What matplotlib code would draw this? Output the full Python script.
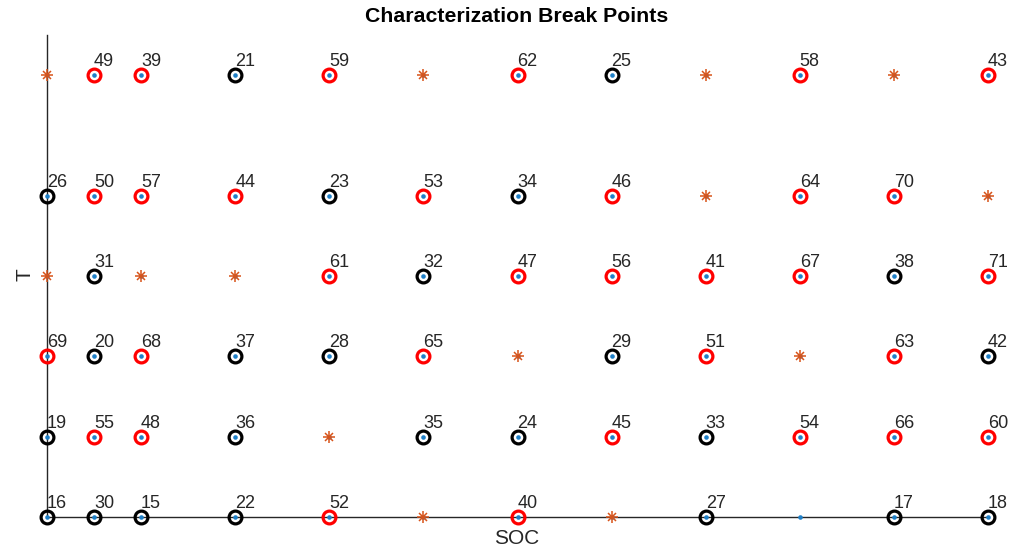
import numpy as np
import matplotlib
matplotlib.use("Agg")
import matplotlib.pyplot as plt

plt.rcParams['font.family'] = ['Liberation Sans', 'DejaVu Sans']

# Breakpoint grid
soc_levels = [0, 0.05, 0.1, 0.2, 0.3, 0.4, 0.5, 0.6, 0.7, 0.8, 0.9, 1.0]
temp_levels = [0, 10, 20, 30, 40, 55]

# Points measured in the first campaign (black rings)
black_ids = [16, 30, 15, 22, 27, 17, 18,
             19, 36, 35, 24, 33,
             20, 37, 28, 29, 42,
             31, 32, 38,
             26, 23, 34,
             21, 25]
black_soc = [0, 0.05, 0.1, 0.2, 0.7, 0.9, 1.0,
             0, 0.2, 0.4, 0.5, 0.7,
             0.05, 0.2, 0.3, 0.6, 1.0,
             0.05, 0.4, 0.9,
             0, 0.3, 0.5,
             0.2, 0.6]
black_temp = [0, 0, 0, 0, 0, 0, 0,
              10, 10, 10, 10, 10,
              20, 20, 20, 20, 20,
              30, 30, 30,
              40, 40, 40,
              55, 55]

# Points measured in the second campaign (red rings)
red_ids = [52, 40,
           55, 48, 45, 54, 66, 60,
           69, 68, 65, 51, 63,
           61, 47, 56, 41, 67, 71,
           50, 57, 44, 53, 46, 64, 70,
           49, 39, 59, 62, 58, 43]
red_soc = [0.3, 0.5,
           0.05, 0.1, 0.6, 0.8, 0.9, 1.0,
           0, 0.1, 0.4, 0.7, 0.9,
           0.3, 0.5, 0.6, 0.7, 0.8, 1.0,
           0.05, 0.1, 0.2, 0.4, 0.6, 0.8, 0.9,
           0.05, 0.1, 0.3, 0.5, 0.8, 1.0]
red_temp = [0, 0,
            10, 10, 10, 10, 10, 10,
            20, 20, 20, 20, 20,
            30, 30, 30, 30, 30, 30,
            40, 40, 40, 40, 40, 40, 40,
            55, 55, 55, 55, 55, 55]

# Skipped points (asterisks)
star_soc = [0.4, 0.6,
            0.3,
            0.5, 0.8,
            0, 0.1, 0.2,
            0.7, 1.0,
            0, 0.4, 0.7, 0.9]
star_temp = [0, 0,
             10,
             20, 20,
             30, 30, 30,
             40, 40,
             55, 55, 55, 55]

text_color = '#262626'
dot_color = '#1f80c8'
star_color = '#D95319'

fig = plt.figure(figsize=(10.13, 5.51), dpi=100)
ax = fig.add_axes([47 / 1013, 34 / 551, (988 - 47) / 1013, (517 - 35) / 551])

grid_soc, grid_temp = np.meshgrid(soc_levels, temp_levels)
ax.plot(grid_soc.ravel(), grid_temp.ravel(), 'o', color=dot_color, ms=3.3,
        mew=0, clip_on=False, zorder=3)

ax.plot(black_soc, black_temp, 'o', mfc='none', mec='black', ms=9.2,
        mew=2.3, clip_on=False, zorder=4)
ax.plot(red_soc, red_temp, 'o', mfc='none', mec='red', ms=9.2,
        mew=2.3, clip_on=False, zorder=4)

# MATLAB-style asterisk: plus overlaid with a smaller cross
ax.plot(star_soc, star_temp, '+', color=star_color, ms=9.0, mew=1.1,
        clip_on=False, zorder=5)
ax.plot(star_soc, star_temp, 'x', color=star_color, ms=6.4, mew=1.1,
        clip_on=False, zorder=5)

for ids, xs, ys in ((black_ids, black_soc, black_temp),
                    (red_ids, red_soc, red_temp)):
    for i, x, y in zip(ids, xs, ys):
        ax.annotate(str(i), (x, y), xytext=(0.0, 9.8),
                    textcoords='offset points', ha='left', va='center',
                    fontsize=13, color=text_color, zorder=6,
                    annotation_clip=False)

ax.set_xlim(0, 1)
ax.set_ylim(0, 60)
for side in ('top', 'right'):
    ax.spines[side].set_visible(False)
for side in ('left', 'bottom'):
    ax.spines[side].set_color(text_color)
    ax.spines[side].set_linewidth(1.0)
    ax.spines[side].set_zorder(2)
ax.set_xticks([])
ax.set_yticks([])

fig.text(517 / 1013, 1 - 17 / 551, 'Characterization Break Points',
         ha='center', va='center', fontsize=15.3, fontweight='bold',
         color='black')
fig.text(517 / 1013, 1 - 539 / 551, 'SOC', ha='center', va='center',
         fontsize=15, color=text_color)
fig.text(25 / 1013, 1 - 275 / 551, 'T', ha='center', va='center',
         rotation=90, fontsize=15, color=text_color)

fig.savefig('out.png', dpi=100)
